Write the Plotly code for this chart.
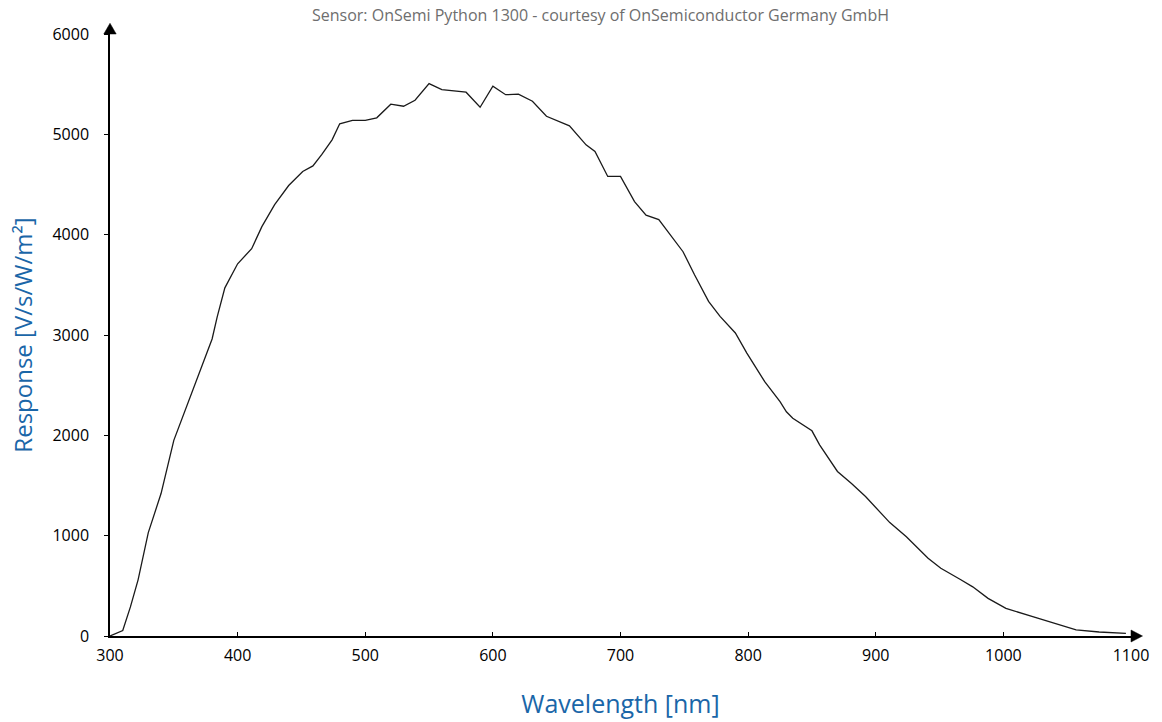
import plotly.graph_objects as go

wavelength_nm = [300, 310, 316, 322, 330, 340, 350, 361, 372, 380, 384, 390, 400, 411, 419, 429,
                 440, 451, 459, 466, 474, 480, 490, 500, 509, 520, 530, 539, 550, 560, 579, 590,
                 600, 610, 620, 631, 642, 650, 660, 673, 680, 690, 700, 711, 720, 730, 749, 758,
                 769, 778, 790, 799, 813, 825, 830, 835, 850, 856, 863, 870, 881, 892, 911, 924,
                 941, 951, 966, 976, 988, 1002, 1023, 1041, 1057, 1075, 1096]
response = [0, 55, 290, 560, 1030, 1420, 1950, 2320, 2690, 2960, 3180, 3470, 3710, 3860, 4080, 4300,
            4490, 4630, 4685, 4800, 4945, 5105, 5140, 5140, 5165, 5300, 5280, 5340, 5505, 5445, 5420, 5270,
            5480, 5395, 5400, 5330, 5180, 5140, 5085, 4895, 4830, 4580, 4580, 4330, 4195, 4150, 3830, 3600,
            3335, 3185, 3020, 2820, 2535, 2335, 2235, 2170, 2045, 1905, 1770, 1640, 1520, 1390, 1130, 990,
            775, 675, 565, 490, 375, 275, 192, 120, 60, 40, 27]

x_ticks = [300, 400, 500, 600, 700, 800, 900, 1000, 1100]
y_ticks = [0, 1000, 2000, 3000, 4000, 5000, 6000]

title_text = "Sensor: OnSemi Python 1300 - courtesy of OnSemiconductor Germany GmbH"
x_title = "Wavelength [nm]"
y_title = "Response [V/s/W/m²]"

FONT = "Open Sans"
BLUE = "#1a66a8"

fig = go.Figure()
fig.add_trace(go.Scatter(x=wavelength_nm, y=response, mode="lines",
                         line=dict(color="#1a1a1a", width=1.3), hoverinfo="x+y"))

W, H = 1162, 722
L, R, T, B = 110, 31, 34, 86
pw = W - L - R
ph = H - T - B

fig.update_layout(
    width=W, height=H, autosize=False,
    margin=dict(l=L, r=R, t=T, b=B, pad=0, autoexpand=False),
    paper_bgcolor="white", plot_bgcolor="white",
    showlegend=False,
    font=dict(family=FONT, color="black", size=16),
    xaxis=dict(range=[300, 1100], tickvals=x_ticks, ticktext=[str(v) for v in x_ticks],
               showgrid=False, zeroline=False, showline=True, linecolor="black", linewidth=1.5,
               ticks="inside", ticklen=4, tickcolor="black", tickwidth=1,
               ticklabelstandoff=4, automargin=False,
               tickfont=dict(family=FONT, size=16, color="black"),
               title=dict(text=x_title, font=dict(family=FONT, size=25, color=BLUE), standoff=31),
               fixedrange=True),
    yaxis=dict(range=[0, 6000], tickvals=y_ticks, ticktext=[str(v) for v in y_ticks],
               showgrid=False, zeroline=False, showline=True, linecolor="black", linewidth=1.5,
               ticks="outside", ticklen=4, tickcolor="black", tickwidth=1,
               ticklabelstandoff=12, automargin=False,
               tickfont=dict(family=FONT, size=16, color="black"),
               title=dict(text=y_title, font=dict(family=FONT, size=24, color=BLUE), standoff=13),
               fixedrange=True),
)

# arrowheads on axes
ax_w = 11.5 / pw
ax_h = 6.0 / ph
ay_h = 10.7 / ph
ay_w = 6.2 / pw
fig.add_shape(type="path", xref="paper", yref="paper",
              path=f"M 1,{ax_h} L {1+ax_w},0 L 1,{-ax_h} Z",
              fillcolor="black", line=dict(color="black", width=0.5), layer="above")
fig.add_shape(type="path", xref="paper", yref="paper",
              path=f"M {-ay_w},1 L 0,{1+ay_h} L {ay_w},1 Z",
              fillcolor="black", line=dict(color="black", width=0.5), layer="above")

fig.add_annotation(text=title_text, xref="paper", yref="paper",
                   x=(600 - L) / pw, y=1 + 19 / ph, showarrow=False,
                   xanchor="center", yanchor="middle",
                   font=dict(family=FONT, size=16, color="#6e6e6e"))

fig.write_html(
    "out.html",
    config={"displayModeBar": False},
    post_script="document.body.style.margin='0px';document.documentElement.style.overflow='hidden';",
)
